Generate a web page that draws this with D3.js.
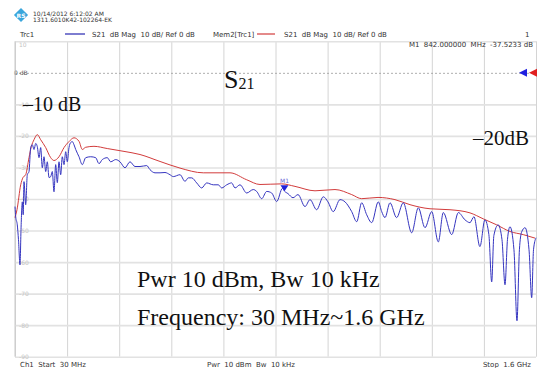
<!DOCTYPE html>
<html>
<head>
<meta charset="utf-8">
<script src="https://cdn.jsdelivr.net/npm/d3@7"></script>
<style>
  body { margin: 0; background: #fff; }
  svg { display: block; }
  .hdr { font-family: "DejaVu Sans", sans-serif; font-size: 7px; fill: #333; }
  .big { font-family: "Liberation Serif", serif; fill: #111; }
</style>
</head>
<body>
<div id="chart"></div>
<script>
// frequency (MHz) / level (dB) of the live trace
const trcFreq = [30, 32.1, 36.9, 40.5, 45.1, 48.1, 52, 54.7, 57.1, 62.2, 67.1, 72.2, 77.3, 82.1, 87.3, 92.4, 97.2,
  102.3, 107.4, 112.3, 117.4, 122.5, 127.3, 132.5, 137.6, 142.4, 147.5, 152.6, 157.5, 162.6, 167.7, 172.5, 177.7,
  182.8, 187.6, 192.7, 197.8, 202.7, 207.8, 212.9, 222.9, 232.8, 243, 258.1, 273.2, 283.1, 293.1, 308.1, 318.4,
  333.5, 346.4, 361.5, 376.5, 391.6, 406.7, 426.9, 436.8, 451.9, 467, 482, 497, 507, 527.2, 542.3, 552.2, 562.5,
  577.5, 592.6, 607.7, 627.6, 642.6, 652.9, 668, 683, 693, 708, 728.2, 748, 758.3, 773.4, 788.5, 803.5, 818.6,
  836, 842, 852.7,
  867.8, 882.8, 903.9, 919, 939, 959, 973, 989, 1009.4, 1024.4, 1044.6, 1059.7, 1074.7, 1089.8, 1104.9, 1124.8,
  1135, 1145, 1160, 1180, 1200, 1225.4, 1245.3, 1265.5, 1285.7, 1305.6, 1320.6, 1346, 1366, 1386, 1401, 1413,
  1431, 1446, 1458, 1466.5, 1473, 1486, 1497.5, 1506.6, 1514, 1521.6, 1533.6, 1542.7, 1550, 1556.9, 1567, 1579,
  1587, 1592.5, 1600];
const trcDb = [-42.4, -45.6, -48.2, -52.9, -60.9, -49.7, -40.9, -45.0, -34.5, -41.8, -32.3, -31.3, -23.7, -22.8,
  -24.3, -22.4, -23.4, -26.9, -23.7, -30.1, -26.6, -31.3, -28.2, -33.2, -32.9, -31.3, -37.7, -29.1, -34.8, -28.2,
  -32.3, -26.6, -29.1, -25.0, -28.2, -23.7, -22.1, -21.8, -22.8, -24.3, -26.6, -29.1, -26.9, -26.6, -26.9, -28.8,
  -27.5, -26.9, -28.2, -27.5, -28.2, -30.1, -28.2, -29.7, -29.7, -29.4, -30.7, -31.7, -31.7, -31.6, -32.3, -32.9,
  -32.3, -34.4, -33.3, -33.3, -34.9, -36.5, -34.9, -35.5, -35.5, -36.5, -35.5, -34.9, -36.5, -35.5, -38.1, -37.0,
  -37.6, -39.9, -37.6, -38.1, -40.8,
  -36.6, -37.5, -38.3, -39.6, -38.6, -42.4, -40.2, -43.4, -39.3, -40.9, -44.0, -40.2,
  -40.9, -44.0, -47.2, -41.2, -45.0, -47.5, -40.9, -44.0, -45.9, -41.2, -45.9, -41.2, -50.7, -42.8, -49.1, -44.0,
  -53.6, -44.3, -51.3, -44.3, -46.6, -47.5, -45.6, -55.1, -46.6, -51.3, -66.3, -51.6, -48.2, -52.9, -67.2, -52.9,
  -48.8, -56.1, -78.6, -56.1, -50.4, -49.1, -56.1, -71.3, -56.1, -52.3];

// memory trace Mem2[Trc1]
const memFreq = [30, 36, 47.2, 54, 62.2, 72.2, 79.1, 87.3, 97.2, 107.4, 122.5, 137.6, 147.5, 162.6, 177.7, 192.7,
  207.8, 222.9, 232.8, 243, 268, 308, 358.5, 406.7, 467, 527.2, 597.4, 677.9, 728.2, 768.3, 833.7, 873.8, 934,
  994.3, 1044.6, 1074.7, 1123.9, 1175, 1220.3, 1280.6, 1340.8, 1401.1, 1441.2, 1481.6, 1521.6, 1561.7, 1597];
const memDb = [-45.9, -43.4, -35.5, -33.2, -32.3, -26.9, -23.4, -21.2, -19.6, -21.2, -23.7, -26.9, -27.8, -26.6,
  -23.7, -21.8, -20.6, -21.7, -24.3, -23.6, -23.3, -24.0, -24.9, -25.9, -28.1, -30.2, -31.7, -31.7, -33.9, -35.4,
  -35.2, -36.0, -37.4, -37.0, -38.6, -39.9, -39.5, -40.2, -41.8, -43.1, -43.4, -44.4, -46.3, -48.2, -50.3, -51.3,
  -52.4];

const yTicks = [10, 0, -10, -20, -30, -40, -50, -60, -70, -80, -90];
const marker = { name: "M1", freq: 842, db: -37.5233 };

const W = 540, H = 368;
const plot = { left: 15, right: 536, top: 41.3, bottom: 356.7 };

const x = d3.scaleLinear().domain([30, 1600]).range([plot.left, plot.right]);
const y = d3.scaleLinear().domain([-90, 10]).range([plot.bottom, plot.top]);

const svg = d3.select("#chart").append("svg").attr("width", W).attr("height", H);

// grid
const xGrid = d3.range(11).map((i) => 30 + i * 157);
svg.append("g")
  .attr("transform", `translate(0, ${plot.bottom})`)
  .call(d3.axisBottom(x).tickValues(xGrid).tickSize(-(plot.bottom - plot.top)).tickFormat(""))
  .call((g) => g.select(".domain").remove())
  .selectAll(".tick line").attr("stroke", "#d4d4d4").attr("stroke-width", 1);

const yAxis = svg.append("g")
  .attr("transform", `translate(${plot.left}, 0)`)
  .call(d3.axisLeft(y).tickValues(yTicks).tickSize(-(plot.right - plot.left)).tickFormat((d) => (d === 0 ? "0 dB" : d)));
yAxis.select(".domain").remove();
yAxis.selectAll(".tick line")
  .attr("stroke", (d) => (d === 0 ? "#999" : "#e2e2e2"))
  .attr("stroke-width", (d) => (d === 0 ? 0.8 : 1.6))
  .attr("stroke-dasharray", (d) => (d === 0 ? "2,2" : null));
yAxis.selectAll(".tick text")
  .attr("x", (d) => (d === 0 ? -1 : 4))
  .attr("dy", (d) => (d === 10 ? "0.9em" : "0.32em"))
  .attr("text-anchor", "start")
  .style("font-family", "DejaVu Sans, sans-serif")
  .style("font-size", "6px")
  .attr("fill", (d) => (d === 0 ? "#555" : "#c4c4c4"));

svg.append("line")
  .attr("x1", plot.left).attr("x2", plot.left)
  .attr("y1", plot.top).attr("y2", plot.bottom)
  .attr("stroke", "#c8c8c8");

// traces
const lineOf = d3.line().x((d) => x(d[0])).y((d) => y(d[1])).curve(d3.curveMonotoneX);
svg.append("path")
  .datum(d3.zip(memFreq, memDb))
  .attr("fill", "none").attr("stroke", "#d23c3c").attr("stroke-width", 1)
  .attr("d", lineOf);
svg.append("path")
  .datum(d3.zip(trcFreq, trcDb))
  .attr("fill", "none").attr("stroke", "#3535c0").attr("stroke-width", 1)
  .attr("d", lineOf);

// marker M1
const mx = x(marker.freq), my = y(marker.db);
svg.append("path")
  .attr("d", `M${mx - 4},${my - 6} L${mx + 4},${my - 6} L${mx},${my} Z`)
  .attr("fill", "#2020d8");
svg.append("text")
  .attr("x", mx).attr("y", my - 8)
  .attr("text-anchor", "middle")
  .style("font-family", "DejaVu Sans, sans-serif").style("font-size", "6px")
  .attr("fill", "#6a6ad8").text(marker.name);

// reference level arrows
const r0 = y(0);
svg.append("path").attr("d", `M519,${r0} L527,${r0 - 4} L527,${r0 + 4} Z`).attr("fill", "#2020e0");
svg.append("path").attr("d", `M529,${r0} L537,${r0 - 4} L537,${r0 + 4} Z`).attr("fill", "#e02020");

// header
const logo = svg.append("g").attr("transform", "translate(21,15)");
logo.append("rect").attr("x", -5).attr("y", -5).attr("width", 10).attr("height", 10)
  .attr("transform", "rotate(45)").attr("fill", "#3aa6dc");
logo.append("text").attr("text-anchor", "middle").attr("y", 2.5)
  .style("font-family", "DejaVu Sans, sans-serif").style("font-size", "6px").style("font-weight", "bold")
  .attr("fill", "#fff").text("RS");

svg.append("text").attr("class", "hdr").attr("x", 33).attr("y", 16)
  .style("font-size", "6px").attr("fill", "#666").text("10/14/2012 6:12:02 AM");
svg.append("text").attr("class", "hdr").attr("x", 33).attr("y", 21.5)
  .style("font-size", "6px").attr("fill", "#666").text("1311.6010K42-102264-EK");

svg.append("text").attr("class", "hdr").attr("x", 20).attr("y", 36.5).text("Trc1");
svg.append("line").attr("x1", 65).attr("x2", 85).attr("y1", 34).attr("y2", 34)
  .attr("stroke", "#2626b0").attr("stroke-width", 1.2);
svg.append("text").attr("class", "hdr").attr("x", 92).attr("y", 36.5)
  .attr("xml:space", "preserve").text("S21  dB Mag  10 dB/ Ref 0 dB");
svg.append("text").attr("class", "hdr").attr("x", 213).attr("y", 36.5).text("Mem2[Trc1]");
svg.append("line").attr("x1", 257).attr("x2", 275).attr("y1", 34).attr("y2", 34)
  .attr("stroke", "#d23c3c").attr("stroke-width", 1.2);
svg.append("text").attr("class", "hdr").attr("x", 284).attr("y", 36.5)
  .attr("xml:space", "preserve").text("S21  dB Mag  10 dB/ Ref 0 dB");
svg.append("text").attr("class", "hdr").attr("x", 525).attr("y", 36.5).text("1");

svg.append("text").attr("class", "hdr").attr("x", 533).attr("y", 47)
  .attr("text-anchor", "end").attr("xml:space", "preserve").attr("fill", "#4a4ad0")
  .text(`${marker.name}  ${marker.freq.toFixed(6)}  MHz  ${marker.db.toFixed(4)} dB`);

// footer
svg.append("text").attr("class", "hdr").attr("x", 20).attr("y", 366.5)
  .attr("xml:space", "preserve").text("Ch1  Start  30 MHz");
svg.append("text").attr("class", "hdr").attr("x", 207).attr("y", 366.5)
  .attr("xml:space", "preserve").text("Pwr  10 dBm  Bw  10 kHz");
svg.append("text").attr("class", "hdr").attr("x", 531).attr("y", 366.5)
  .attr("text-anchor", "end").attr("xml:space", "preserve").text("Stop  1.6 GHz");

// annotations
const s21 = svg.append("text").attr("class", "big").attr("x", 224).attr("y", 88);
s21.append("tspan").style("font-size", "26px").text("S");
s21.append("tspan").style("font-size", "16px").attr("dy", 1).text("21");

svg.append("text").attr("class", "big").attr("x", 23).attr("y", 111)
  .style("font-size", "20px").text("\u201310 dB");
svg.append("text").attr("class", "big").attr("x", 473).attr("y", 145)
  .style("font-size", "21px").text("\u201320dB");
svg.append("text").attr("class", "big").attr("x", 137).attr("y", 287)
  .style("font-size", "24px").text("Pwr 10 dBm, Bw 10 kHz");
svg.append("text").attr("class", "big").attr("x", 137).attr("y", 325)
  .style("font-size", "24px").text("Frequency: 30 MHz~1.6 GHz");
</script>
</body>
</html>
